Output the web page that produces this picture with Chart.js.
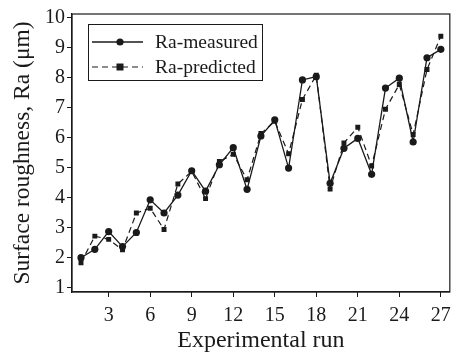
<!DOCTYPE html>
<html>
<head>
<meta charset="utf-8">
<script src="https://cdn.jsdelivr.net/npm/chart.js@4"></script>
<style>
  html, body { margin: 0; padding: 0; background: #fff; }
  #wrap { width: 458px; height: 357px; }
</style>
</head>
<body>
<div id="wrap"><canvas id="myChart" width="458" height="357"></canvas></div>
<script>
// experimental runs
var runs = [1,2,3,4,5,6,7,8,9,10,11,12,13,14,15,16,17,18,19,20,21,22,23,24,25,26,27];
// Ra values
var ra_measured = [2.00,2.28,2.87,2.37,2.84,3.93,3.49,4.09,4.90,4.22,5.10,5.67,4.28,6.06,6.60,4.99,7.93,8.04,4.48,5.65,5.98,4.78,7.66,7.99,5.86,8.67,8.95];
var ra_predicted = [1.83,2.72,2.61,2.26,3.49,3.65,2.94,4.46,4.88,3.97,5.21,5.45,4.60,6.14,6.55,5.47,7.28,8.09,4.29,5.83,6.35,5.06,6.95,7.78,6.11,8.28,9.39];
var x_ticks = [3,6,9,12,15,18,21,24,27];
var y_ticks = [1,2,3,4,5,6,7,8,9,10];
var series_names = ["Ra-measured", "Ra-predicted"];

var ink = "#1a1a1a";
var serif = "'Liberation Serif', 'DejaVu Serif', serif";

function toPoints(vals) {
    var pts = [];
    for (i = 0; i < runs.length; i++) {
        pts.push({x: runs[i], y: vals[i]});
    }
    return pts;
}

// frame round the plot plus the legend box in the upper left
var framePlugin = {
    id: "frame",
    afterDraw: function(chart) {
        var ctx = chart.ctx;
        var a = chart.chartArea;
        ctx.save();
        ctx.strokeStyle = ink;
        ctx.lineWidth = 1.2;
        ctx.strokeRect(a.left, a.top, a.right - a.left, a.bottom - a.top);

        // legend
        var bx = 88, by = 24, bw = 174, bh = 56;
        ctx.lineWidth = 1;
        ctx.strokeRect(bx + 0.5, by + 0.5, bw, bh);
        var rows = [42, 67];
        ctx.font = "19.5px " + serif;
        ctx.textBaseline = "middle";
        ctx.fillStyle = ink;
        chart.data.datasets.forEach(function(ds, k) {
            var y = rows[k];
            ctx.beginPath();
            ctx.setLineDash(ds.borderDash || []);
            ctx.lineWidth = ds.borderWidth;
            ctx.moveTo(92, y);
            ctx.lineTo(143, y);
            ctx.stroke();
            ctx.setLineDash([]);
            if (ds.pointStyle === "rect") {
                ctx.fillRect(120 - 3.5, y - 3.5, 7, 7);
            } else {
                ctx.beginPath();
                ctx.arc(120, y, 3.6, 0, Math.PI * 2);
                ctx.fill();
            }
            ctx.fillText(ds.label, 155, y + 1);
        });
        ctx.restore();
    }
};

const canvas = document.getElementById("myChart");
const chart = new Chart(canvas, {
    type: "line",
    data: {
        datasets: [{
            label: series_names[0],
            data: toPoints(ra_measured),
            borderColor: ink,
            backgroundColor: ink,
            borderWidth: 1.3,
            pointStyle: "circle",
            pointRadius: 3.6,
            pointBorderWidth: 0,
            tension: 0
        }, {
            label: series_names[1],
            data: toPoints(ra_predicted),
            borderColor: ink,
            backgroundColor: ink,
            borderWidth: 1.2,
            borderDash: [6, 4],
            pointStyle: "rect",
            pointRadius: 3.5,
            pointBorderWidth: 0,
            tension: 0
        }]
    },
    options: {
        responsive: false,
        animation: false,
        layout: { padding: { top: 11, right: 7, left: 0, bottom: 0 } },
        plugins: {
            legend: { display: false },
            tooltip: { enabled: false }
        },
        scales: {
            x: {
                type: "linear",
                min: 0.35,
                max: 27.65,
                afterBuildTicks: function(s) {
                    s.ticks = x_ticks.map(function(v) { return {value: v}; });
                },
                afterFit: function(s) { s.height = 65; },
                grid: { drawOnChartArea: false, drawTicks: true, tickLength: 5, color: ink, lineWidth: 1 },
                border: { display: true, color: ink, width: 1.2 },
                ticks: {
                    color: ink,
                    font: { family: serif, size: 20 },
                    padding: 7,
                    maxRotation: 0,
                    autoSkip: false
                },
                title: {
                    display: true,
                    text: "Experimental run",
                    color: ink,
                    font: { family: serif, size: 24 },
                    padding: { top: 0, bottom: 2 }
                }
            },
            y: {
                min: 0.855,
                max: 10.13,
                afterBuildTicks: function(s) {
                    s.ticks = y_ticks.map(function(v) { return {value: v}; });
                },
                afterFit: function(s) { s.width = 72; },
                grid: { drawOnChartArea: false, drawTicks: true, tickLength: 5, color: ink, lineWidth: 1 },
                border: { display: true, color: ink, width: 1.2 },
                ticks: {
                    color: ink,
                    font: { family: serif, size: 20 },
                    padding: 2,
                    autoSkip: false
                },
                title: {
                    display: true,
                    text: "Surface roughness, Ra (\u03bcm)",
                    color: ink,
                    font: { family: serif, size: 23.5 },
                    padding: { top: 9, bottom: 0 }
                }
            }
        }
    },
    plugins: [framePlugin]
});
</script>
</body>
</html>
